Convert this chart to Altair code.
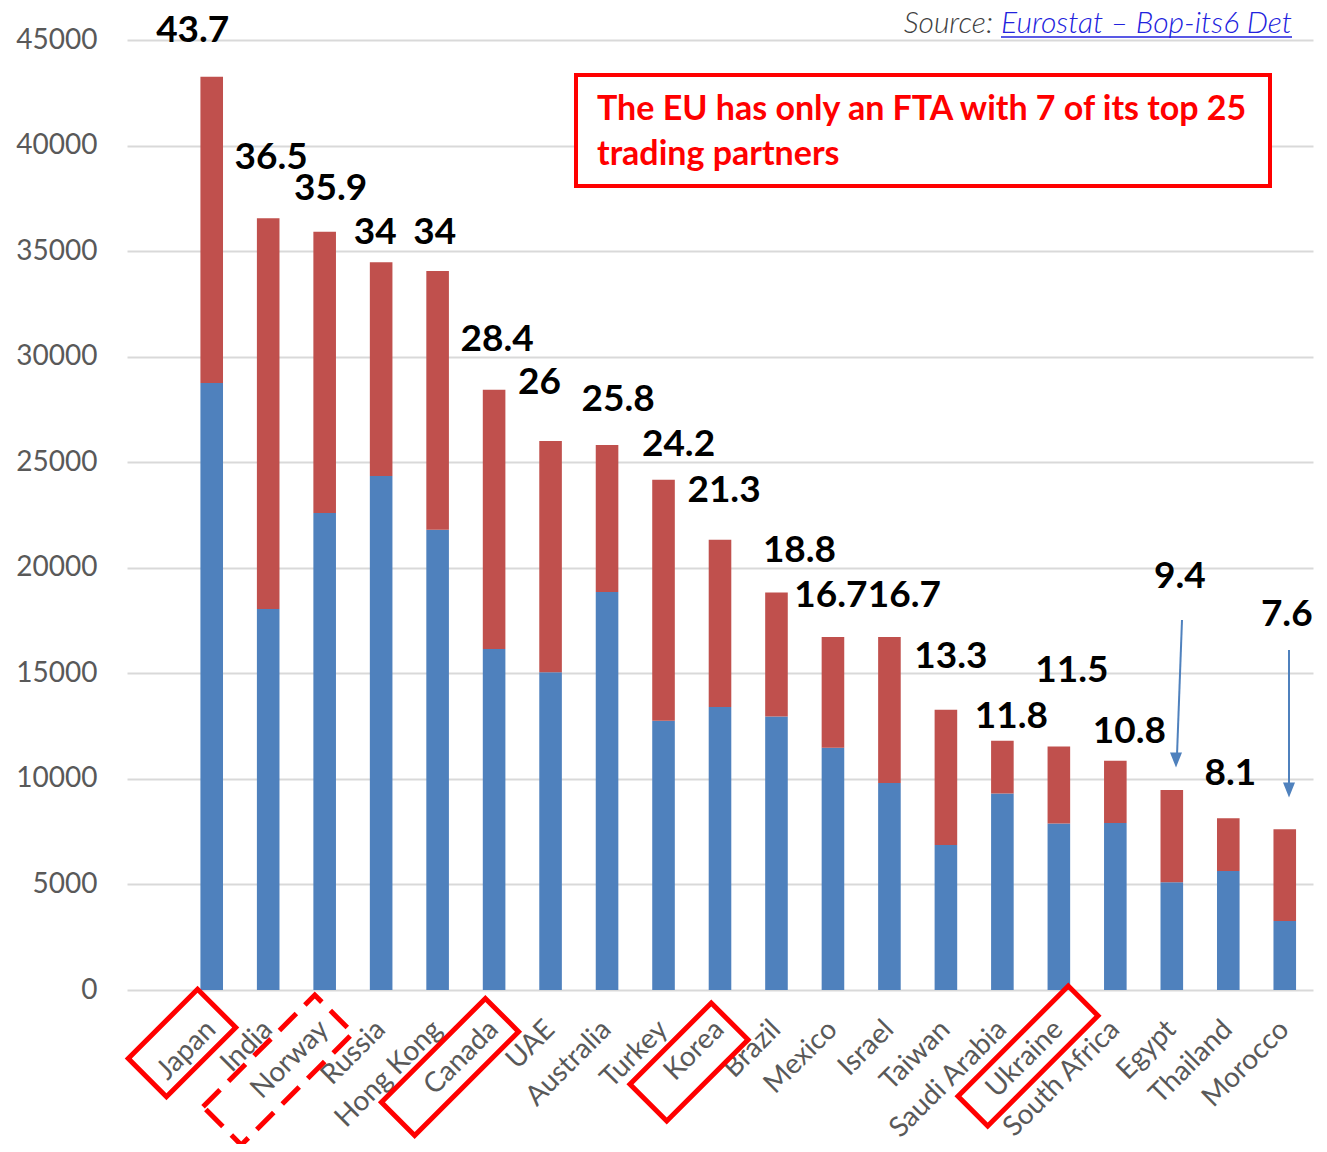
import altair as alt
import pandas as pd

# ---------------- data ----------------
countries = ["Japan", "India", "Norway", "Russia", "Hong Kong", "Canada", "UAE",
             "Australia", "Turkey", "Korea", "Brazil", "Mexico", "Israel", "Taiwan",
             "Saudi Arabia", "Ukraine", "South Africa", "Egypt", "Thailand", "Morocco"]
blue_vals = [28750, 18050, 22600, 24350, 21800, 16150, 15050, 18850, 12750, 13400,
             12950, 11480, 9800, 6870, 9310, 7890, 7910, 5100, 5640, 3270]
red_vals = [14510, 18510, 13320, 10120, 12260, 12280, 10950, 6960, 11420, 7930,
            5880, 5240, 6920, 6410, 2500, 3650, 2950, 4370, 2490, 4340]
value_labels = ["43.7", "36.5", "35.9", "34", "34", "28.4", "26", "25.8", "24.2", "21.3",
                "18.8", "16.7", "16.7", "13.3", "11.8", "11.5", "10.8", "9.4", "8.1", "7.6"]
y_ticks = [0, 5000, 10000, 15000, 20000, 25000, 30000, 35000, 40000, 45000]
fta_partners = ["Japan", "Canada", "Korea", "Ukraine"]
dashed_partners = ["Norway"]
arrow_targets = ["Egypt", "Morocco"]
note_lines = ["The EU has only an FTA with 7 of its top 25", "trading partners"]
source_prefix = "Source:"
source_link = "Eurostat \u2013 Bop-its6 Det"

# ---------------- layout / style (not data) ----------------
W, H = 1186, 950
BLUE, RED = "#4F81BD", "#C0504D"
GRID = "#D9D9D9"
FONT = "Lato"
label_dx = [-19, 3, 6, -6, -3, 3, -11, 11, 15, 4, 23, -2, 15, 5, 9, 13, 14, 8, 2, 2]
label_dy = [-46, -60, -43, -29, -38, -50, -58, -45, -35, -49, -41, -41, -41, -53, -24, -75, -29, -213, -44, -214]
# box around a label: (x center, y center in plot px, long side, short side)
box_geom = {"Japan": (55, 1003, 98, 54), "Norway": (151, 1030, 158, 54),
            "Canada": (323, 1027, 147, 47), "Korea": (562, 1022, 115, 52),
            "Ukraine": (901, 1016, 156, 42)}
arrow_geom = {"Egypt": (1055, 580, 1050, 715, 1049, 720), "Morocco": (1162, 610, 1162, 745, 1162, 750)}

x_domain = [" "] + countries
x_scale = alt.Scale(domain=x_domain, paddingInner=0.6, paddingOuter=0.3)
x_axis = alt.Axis(labelAngle=-45, labelAlign="right", labelBaseline="middle",
                  labelFontSize=28, labelColor="#595959", labelFont=FONT,
                  labelPadding=35, domain=False, ticks=False, grid=False,
                  labelOverlap=False, labelLimit=400)
x_enc = alt.X("country:N", scale=x_scale, axis=x_axis, title=None, sort=x_domain)

y_scale = alt.Scale(domain=[0, 45000], nice=False)
y_axis = alt.Axis(values=y_ticks, format="d", labelFontSize=28, labelColor="#595959",
                  labelFont=FONT, labelPadding=30, domain=False, ticks=False,
                  grid=True, gridColor=GRID, gridWidth=2)

# ---------------- bars ----------------
rows = []
for c, b, r in zip(countries, blue_vals, red_vals):
    rows.append({"country": c, "series": "Part A", "value": b, "order": 0})
    rows.append({"country": c, "series": "Part B", "value": r, "order": 1})
bar_df = pd.DataFrame(rows)

bars = alt.Chart(bar_df).mark_bar().encode(
    x=x_enc,
    y=alt.Y("value:Q", stack="zero", scale=y_scale, axis=y_axis, title=None),
    color=alt.Color("series:N", scale=alt.Scale(domain=["Part A", "Part B"], range=[BLUE, RED]), legend=None),
    order=alt.Order("order:Q", sort="ascending"),
)

layers = [bars]

# ---------------- value labels ----------------
for i, c in enumerate(countries):
    df = pd.DataFrame({"country": [c], "total": [blue_vals[i] + red_vals[i]], "label": [value_labels[i]]})
    layers.append(
        alt.Chart(df).mark_text(font=FONT, fontSize=37, fontWeight="bold", color="black",
                                align="center", baseline="middle",
                                dx=label_dx[i], dy=label_dy[i]).encode(
            x=x_enc,
            y=alt.Y("total:Q", scale=y_scale, axis=y_axis, title=None),
            text="label:N")
    )

# ---------------- boxes around FTA partner labels ----------------
for c in fta_partners + dashed_partners:
    xc, yc, L, S = box_geom[c]
    k = S / L
    path = f"M-1,{-k:.4f}L1,{-k:.4f}L1,{k:.4f}L-1,{k:.4f}Z"
    props = dict(shape=path, size=L * L, angle=315, filled=False, stroke="#FF0000",
                 strokeWidth=5, opacity=1)
    if c in dashed_partners:
        props["strokeDash"] = [24, 12]
    layers.append(
        alt.Chart(pd.DataFrame({"country": [c]})).mark_point(**props).encode(
            x=alt.value(xc), y=alt.value(yc))
    )

# ---------------- arrows ----------------
for c in arrow_targets:
    x1, y1, x2, y2, hx, hy = arrow_geom[c]
    layers.append(alt.Chart(pd.DataFrame({"a": [c]})).mark_rule(color=BLUE, strokeWidth=2).encode(
        x=alt.value(x1), x2=alt.value(x2), y=alt.value(y1), y2=alt.value(y2)))
    layers.append(alt.Chart(pd.DataFrame({"a": [c]})).mark_point(
        shape="M-0.8,-1L0.8,-1L0,1Z", size=225, filled=True, color=BLUE, opacity=1).encode(
        x=alt.value(hx), y=alt.value(hy)))

# ---------------- note box ----------------
layers.append(alt.Chart(pd.DataFrame({"a": [1]})).mark_rect(
    fill="white", stroke="#FF0000", strokeWidth=4).encode(
    x=alt.value(449), x2=alt.value(1143), y=alt.value(35), y2=alt.value(146)))
layers.append(alt.Chart(pd.DataFrame({"a": [1]})).mark_text(
    font=FONT, fontSize=34, fontWeight="bold", color="#FF0000", align="left",
    baseline="alphabetic", lineHeight=45).encode(
    x=alt.value(470), y=alt.value(80), text=alt.value(note_lines)))

# ---------------- source ----------------
layers.append(alt.Chart(pd.DataFrame({"a": [1]})).mark_text(
    font=FONT, fontSize=30, fontStyle="italic", fontWeight=300, color="#404040",
    align="right", baseline="alphabetic").encode(
    x=alt.value(866), y=alt.value(-7), text=alt.value(source_prefix)))
layers.append(alt.Chart(pd.DataFrame({"a": [1]})).mark_text(
    font=FONT, fontSize=30, fontStyle="italic", fontWeight=300, color="#2222DD",
    align="right", baseline="alphabetic").encode(
    x=alt.value(1165), y=alt.value(-7), text=alt.value(source_link)))
layers.append(alt.Chart(pd.DataFrame({"a": [1]})).mark_rule(color="#2222DD", strokeWidth=1.5).encode(
    x=alt.value(874), x2=alt.value(1165), y=alt.value(-3)))

chart = alt.layer(*layers).properties(
    width=W, height=H,
    padding={"left": 119, "top": 32, "right": 6, "bottom": 154},
    autosize=alt.AutoSizeParams(type="none"),
    background="white",
).configure_view(stroke=None)

chart.save("out.html", embed_options={"renderer": "svg", "actions": False})
